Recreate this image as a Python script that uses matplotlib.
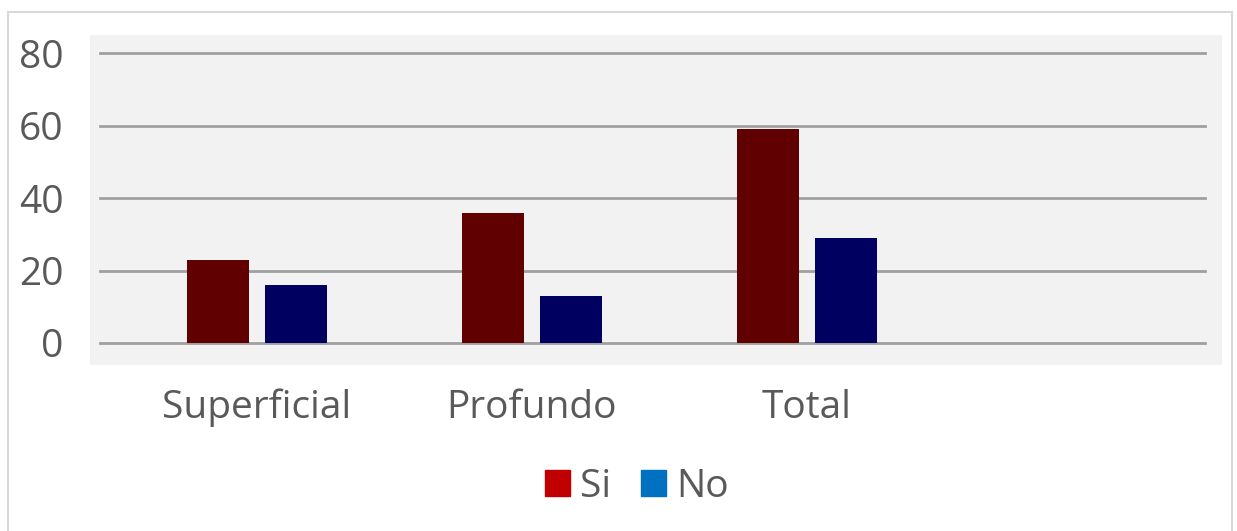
"""Bar chart: Si / No counts for Superficial, Profundo and Total."""

import matplotlib.pyplot as plt
from matplotlib.patches import Patch, Rectangle

CATEGORIES = ["Superficial", "Profundo", "Total"]
SI = [23, 36, 59]
NO = [16, 13, 29]
Y_TICKS = [0, 20, 40, 60, 80]

SI_BAR = "#600000"
NO_BAR = "#000060"
SI_LEGEND = "#C00000"
NO_LEGEND = "#0070C0"
TEXT = "#595959"

plt.rcParams["font.family"] = ["Open Sans", "DejaVu Sans"]

W, H = 1237, 531
fig = plt.figure(figsize=(W / 100, H / 100), dpi=100)

# outer chart border
fig.patches.append(Rectangle((8 / W, -0.05), 1224 / W, 1.05 - 12 / H,
                             transform=fig.transFigure, fill=False,
                             edgecolor="#D9D9D9", linewidth=1.5))

ax = fig.add_axes([90 / W, 1 - 365 / H, 1132 / W, 330 / H])
ax.set_facecolor("#F2F2F2")

x = list(range(len(CATEGORIES)))
off, bw = 0.142, 0.225
ax.bar([i - off for i in x], SI, width=bw, color=SI_BAR, zorder=3)
ax.bar([i + off for i in x], NO, width=bw, color=NO_BAR, zorder=3)

ax.set_xlim(-0.607, 3.509)
ax.set_ylim(-6.07, 84.97)

for y in Y_TICKS:
    ax.axhline(y, xmin=0.009, xmax=0.985, color="#A0A0A0", linewidth=2, zorder=1)

ax.set_yticks(Y_TICKS)
ax.set_xticks(x)
ax.set_xticklabels(CATEGORIES)
ax.tick_params(axis="y", length=0, pad=19, labelsize=28, labelcolor=TEXT)
ax.tick_params(axis="x", length=0, pad=17, labelsize=28, labelcolor=TEXT)
for s in ax.spines.values():
    s.set_visible(False)

handles = [Patch(color=SI_LEGEND, label="Si"), Patch(color=NO_LEGEND, label="No")]
fig.legend(handles=handles, loc="center", bbox_to_anchor=(637 / W, 1 - 487 / H),
           ncol=2, frameon=False, fontsize=28, labelcolor=TEXT,
           handlelength=0.64, handleheight=0.64, handletextpad=0.26,
           columnspacing=0.77)

fig.savefig("out.png", dpi=100)
